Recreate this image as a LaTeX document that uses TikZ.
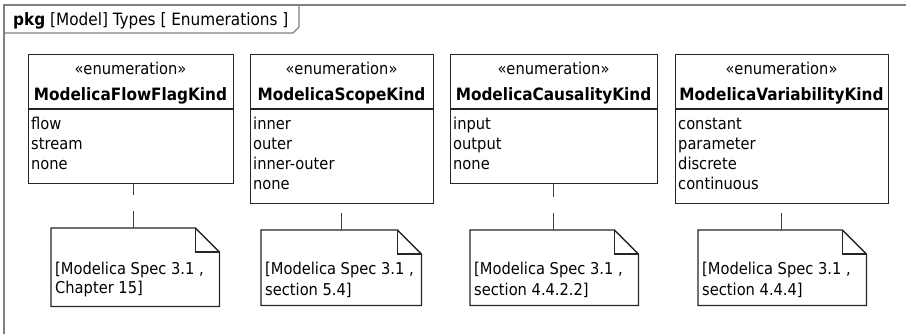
\documentclass[tikz,border=0pt]{standalone}
\usepackage{fontspec}
\newfontfamily\regf{DejaVu Sans Condensed}
\newfontfamily\bldf{DejaVu Sans Condensed Bold}
\begin{document}
\begin{tikzpicture}[x=1pt,y=-1pt,
  framel/.style={draw=black!50, line width=1.4pt},
  enumbox/.style={draw=black!85, line width=1.3pt, inner sep=0pt, anchor=north west},
  sepl/.style={draw=black!85, line width=1.3pt},
  stxt/.style={font=\regf\fontsize{16.3}{20}\selectfont, inner sep=0pt, anchor=base},
  ntxt/.style={font=\bldf\fontsize{17}{20}\selectfont, inner sep=0pt, anchor=base},
  itxt/.style={font=\regf\fontsize{16.3}{20}\selectfont, inner sep=0pt, anchor=base west},
  noteshape/.style={inner sep=0pt, anchor=north west},
  notel/.style={draw=black!85, line width=1.3pt, line join=miter},
  anchorl/.style={draw=black!75, line width=1.2pt, dash pattern=on 17pt off 16pt},
  ttl/.style={inner sep=0pt, anchor=base west}
]
\useasboundingbox (0,0) rectangle (906,334);
\fill[white] (0,0) rectangle (906,334);
% frame
\draw[framel] (4,334) -- (4,5) -- (906,5);
\draw[framel] (4,33) -- (293,33) -- (299,27) -- (299,5);
\node[ttl] (title) at (13,26) {{\bldf\fontsize{17}{20}\selectfont pkg}{\regf\fontsize{17}{20}\selectfont\ [Model] Types [ Enumerations ]}};

% boxes
\node[enumbox, minimum width=205pt, minimum height=129pt] (b1) at (28,54) {};
\node[enumbox, minimum width=183pt, minimum height=149pt] (b2) at (250,54) {};
\node[enumbox, minimum width=207pt, minimum height=129pt] (b3) at (450,54) {};
\node[enumbox, minimum width=213pt, minimum height=149pt] (b4) at (675,54) {};

\foreach \b in {b1,b2,b3,b4}{
  \draw[sepl] (\b.west |- 0,109) -- (\b.east |- 0,109);
}

\node[stxt] (s1) at (130.5,74.5) {«enumeration»};
\node[ntxt] (m1) at (130.5,100.5) {ModelicaFlowFlagKind};
\node[stxt] (s2) at (341.5,74.5) {«enumeration»};
\node[ntxt] (m2) at (341.5,100.5) {ModelicaScopeKind};
\node[stxt] (s3) at (553.5,74.5) {«enumeration»};
\node[ntxt] (m3) at (553.5,100.5) {ModelicaCausalityKind};
\node[stxt] (s4) at (781.5,74.5) {«enumeration»};
\node[ntxt] (m4) at (781.5,100.5) {ModelicaVariabilityKind};

% literals
\node[itxt] (i11) at (31,129.5) {flow};
\node[itxt] (i12) at (31,149.5) {stream};
\node[itxt] (i13) at (31,169.5) {none};

\node[itxt] (i21) at (253,129.5) {inner};
\node[itxt] (i22) at (253,149.5) {outer};
\node[itxt] (i23) at (253,169.5) {inner-outer};
\node[itxt] (i24) at (253,189.5) {none};

\node[itxt] (i31) at (453,129.5) {input};
\node[itxt] (i32) at (453,149.5) {output};
\node[itxt] (i33) at (453,169.5) {none};

\node[itxt] (i41) at (678,129.5) {constant};
\node[itxt] (i42) at (678,149.5) {parameter};
\node[itxt] (i43) at (678,169.5) {discrete};
\node[itxt] (i44) at (678,189.5) {continuous};

% notes
\node[noteshape, minimum width=168pt, minimum height=78pt] (n1) at (51,228) {};
\node[noteshape, minimum width=160pt, minimum height=75pt] (n2) at (261,230) {};
\node[noteshape, minimum width=168pt, minimum height=75pt] (n3) at (470,230) {};
\node[noteshape, minimum width=168pt, minimum height=75pt] (n4) at (698,230) {};

\foreach \n in {n1,n2,n3,n4}{
  \draw[notel] (\n.north west) -- ([xshift=-24pt]\n.north east) -- ([yshift=-24pt]\n.north east) -- (\n.south east) -- (\n.south west) -- cycle;
  \draw[notel] ([xshift=-24pt]\n.north east) -- ([xshift=-24pt,yshift=-24pt]\n.north east) -- ([yshift=-24pt]\n.north east);
}

\node[itxt] (t11) at (55,274) {[Modelica Spec 3.1 ,};
\node[itxt] (t12) at (55,294) {Chapter 15]};
\node[itxt] (t21) at (265,275) {[Modelica Spec 3.1 ,};
\node[itxt] (t22) at (265,295) {section 5.4]};
\node[itxt] (t31) at (474,275) {[Modelica Spec 3.1 ,};
\node[itxt] (t32) at (474,295) {section 4.4.2.2]};
\node[itxt] (t41) at (702,275) {[Modelica Spec 3.1 ,};
\node[itxt] (t42) at (702,295) {section 4.4.4]};

% anchors
\draw[anchorl] ([xshift=-2pt]n1.north) -- ([xshift=-2pt]n1.north |- b1.south);
\draw[anchorl] (n2.north) -- (n2.north |- b2.south);
\draw[anchorl] ([xshift=-1pt]n3.north) -- ([xshift=-1pt]n3.north |- b3.south);
\draw[anchorl] ([xshift=-1pt]n4.north) -- ([xshift=-1pt]n4.north |- b4.south);
\end{tikzpicture}
\end{document}
